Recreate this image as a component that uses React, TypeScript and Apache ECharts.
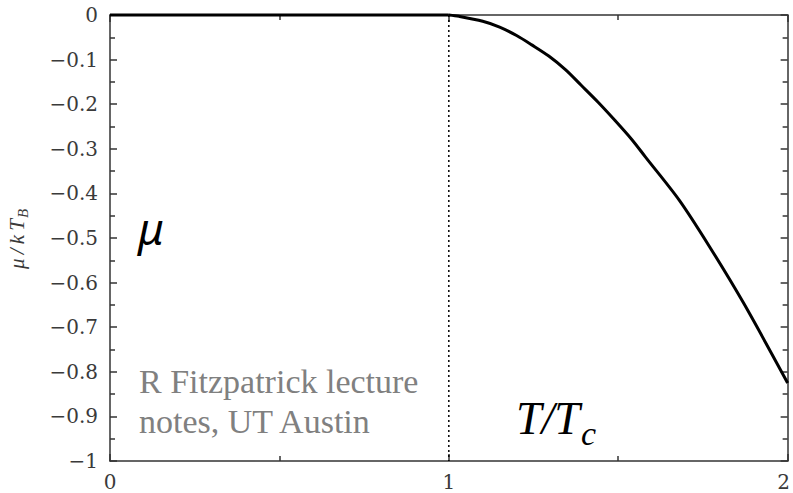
import React, { useEffect, useRef } from "react";
import * as echarts from "echarts";

// Reduced temperature T/Tc and chemical potential mu/kT_B of an ideal Bose gas above Tc
const tOverTc = [1, 1.03, 1.1, 1.15, 1.2, 1.245, 1.295, 1.345, 1.39, 1.44, 1.49, 1.54, 1.58, 1.68, 1.77, 1.87, 2];
const muOverKT = [0, -0.003, -0.014, -0.027, -0.046, -0.067, -0.092, -0.123, -0.157, -0.195, -0.236, -0.279, -0.318, -0.415, -0.52, -0.646, -0.825];

// Below Tc the chemical potential stays at zero
const condensedT = [0, 1];
const condensedMu = [0, 0];

// Vertical marker at the condensation temperature
const criticalT = 1;

const xTickLabels = ["0", "1", "2"];

const SERIF = "Liberation Serif";
const TICK_FONT = "DejaVu Serif";
const AXIS_COLOR = "#333";
const LABEL_COLOR = "#3a3a3a";

function fmtY(v: number): string {
  if (Math.abs(v) < 1e-9) return "0";
  const a = Math.abs(v);
  const s = Math.abs(a - 1) < 1e-9 ? "1" : a.toFixed(1);
  return "\u2212" + s;
}

function fmtX(v: number): string {
  const i = Math.round(v);
  const s = xTickLabels[i] ?? "";
  // the last label sits on the right edge; nudge it inwards a little
  return i === xTickLabels.length - 1 ? "{e|" + s + "}" : s;
}

export default function App() {
  const ref = useRef<HTMLDivElement>(null);

  useEffect(() => {
    if (!ref.current) return;
    const chart = echarts.init(ref.current, undefined, { renderer: "svg" });

    const tickStyle = { color: AXIS_COLOR, width: 1.5 };
    const baseX = {
      type: "value" as const,
      min: 0,
      max: 2,
      interval: 1,
      axisLine: { show: true, onZero: false, lineStyle: tickStyle },
      axisTick: { show: true, inside: true, length: 7, lineStyle: tickStyle },
      minorTick: { show: true, splitNumber: 2, length: 5, lineStyle: tickStyle },
      splitLine: { show: false },
    };
    const baseY = {
      type: "value" as const,
      min: -1,
      max: 0,
      interval: 0.1,
      axisLine: { show: true, onZero: false, lineStyle: tickStyle },
      axisTick: { show: true, inside: true, length: 7, lineStyle: tickStyle },
      minorTick: { show: true, splitNumber: 2, length: 5, lineStyle: tickStyle },
      splitLine: { show: false },
    };

    chart.setOption({
      animation: false,
      backgroundColor: "#fff",
      grid: { left: 110, right: 3, top: 15, bottom: 32, containLabel: false },
      xAxis: [
        {
          ...baseX,
          position: "bottom",
          axisLabel: {
            show: true,
            margin: 11,
            color: LABEL_COLOR,
            fontFamily: TICK_FONT,
            fontSize: 20,
            formatter: fmtX,
            rich: {
              e: { fontFamily: TICK_FONT, fontSize: 20, color: LABEL_COLOR, padding: [0, 8, 0, 0] },
            },
          },
        },
        { ...baseX, position: "top", axisLabel: { show: false } },
      ],
      yAxis: [
        {
          ...baseY,
          position: "left",
          axisLabel: {
            show: true,
            margin: 12,
            color: LABEL_COLOR,
            fontFamily: TICK_FONT,
            fontSize: 20,
            formatter: fmtY,
          },
        },
        { ...baseY, position: "right", axisLabel: { show: false } },
      ],
      series: [
        {
          type: "line",
          data: [
            [criticalT, 0],
            [criticalT, -1],
          ],
          symbol: "none",
          clip: false,
          z: 1,
          lineStyle: { color: "#000", width: 1.5, type: [2, 3] },
        },
        {
          type: "line",
          data: condensedT.map((t, i) => [t, condensedMu[i]]),
          symbol: "none",
          clip: false,
          z: 3,
          lineStyle: { color: "#000", width: 3 },
        },
        {
          type: "line",
          data: tOverTc.map((t, i) => [t, muOverKT[i]]),
          symbol: "none",
          smooth: 0.3,
          clip: false,
          z: 3,
          lineStyle: { color: "#000", width: 3 },
        },
      ],
      graphic: [
        {
          type: "text",
          x: 17,
          y: 239,
          rotation: Math.PI / 2,
          style: {
            text: "{m|\u03bc\u2009/\u2009k\u2009T}{s|B}",
            align: "center",
            verticalAlign: "middle",
            fill: LABEL_COLOR,
            rich: {
              m: { fontFamily: SERIF, fontStyle: "italic", fontSize: 21, verticalAlign: "top", lineHeight: 22, fill: LABEL_COLOR },
              s: { fontFamily: SERIF, fontStyle: "italic", fontSize: 15, verticalAlign: "top", lineHeight: 17, padding: [9, 0, 0, 1], fill: LABEL_COLOR },
            },
          },
        },
        {
          type: "text",
          x: 138,
          y: 228,
          style: {
            text: "\u03bc",
            font: "italic 44px Noto Sans, sans-serif",
            fill: "#000",
            align: "left",
            verticalAlign: "middle",
          },
        },
        {
          type: "text",
          x: 516,
          y: 418,
          style: {
            text: "T/T",
            font: "italic 46px " + SERIF,
            fill: "#000",
            align: "left",
            verticalAlign: "middle",
          },
        },
        {
          type: "text",
          x: 581,
          y: 433,
          style: {
            text: "c",
            font: "italic 34px " + SERIF,
            fill: "#000",
            align: "left",
            verticalAlign: "middle",
          },
        },
        {
          type: "text",
          x: 139,
          y: 361,
          style: {
            text: "R Fitzpatrick lecture\nnotes, UT Austin",
            font: "34px " + SERIF,
            lineHeight: 40,
            fill: "#808080",
            align: "left",
            verticalAlign: "top",
          },
        },
      ],
    });

    return () => chart.dispose();
  }, []);

  return (
    <div
      ref={ref}
      style={{ position: "fixed", left: 0, top: 0, width: 793, height: 493, background: "#fff" }}
    />
  );
}
